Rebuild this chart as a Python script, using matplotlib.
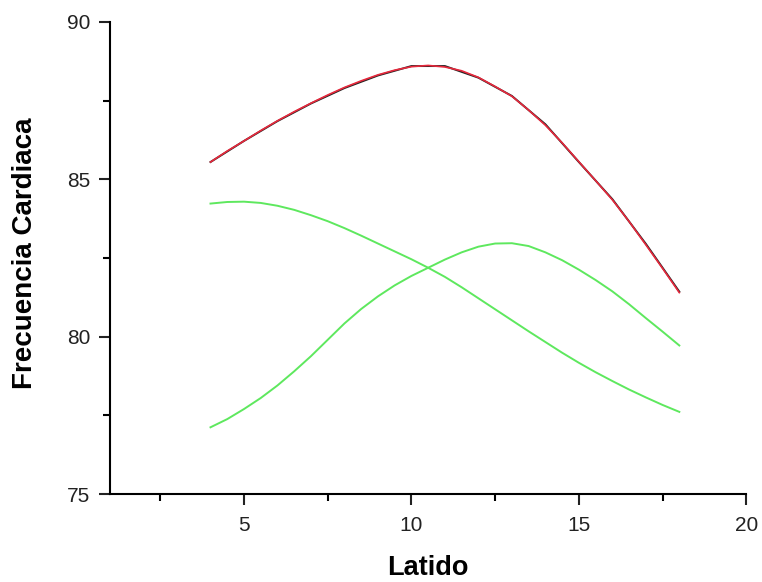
import matplotlib.pyplot as plt

plt.rcParams["font.family"] = ["Liberation Sans", "DejaVu Sans"]

# measured beats (black, piecewise linear)
latido = [4, 5, 6, 7, 8, 9, 10, 11, 12, 13, 14, 15, 16, 17, 18]
frecuencia = [85.55, 86.22, 86.85, 87.41, 87.9, 88.3, 88.6, 88.6, 88.23, 87.65,
              86.75, 85.55, 84.37, 82.95, 81.43]

# fitted curve and its two peak components (read at half steps)
x_fit = [4, 4.5, 5, 5.5, 6, 6.5, 7, 7.5, 8, 8.5, 9, 9.5, 10, 10.5, 11, 11.5,
         12, 12.5, 13, 13.5, 14, 14.5, 15, 15.5, 16, 16.5, 17, 17.5, 18]
ajuste = [85.55, 85.9, 86.22, 86.55, 86.86, 87.15, 87.42, 87.68, 87.92, 88.13,
          88.32, 88.47, 88.58, 88.62, 88.57, 88.45, 88.24, 87.95, 87.64, 87.2,
          86.72, 86.16, 85.56, 84.96, 84.35, 83.66, 82.92, 82.17, 81.4]
pico1 = [84.23, 84.28, 84.29, 84.25, 84.16, 84.03, 83.86, 83.67, 83.45, 83.21,
         82.96, 82.71, 82.46, 82.19, 81.9, 81.57, 81.22, 80.87, 80.52, 80.17,
         79.83, 79.49, 79.17, 78.87, 78.59, 78.32, 78.07, 77.83, 77.61]
pico2 = [77.12, 77.38, 77.7, 78.05, 78.45, 78.9, 79.38, 79.9, 80.42, 80.88,
         81.28, 81.63, 81.93, 82.19, 82.45, 82.68, 82.86, 82.96, 82.97, 82.88,
         82.68, 82.43, 82.13, 81.8, 81.44, 81.03, 80.59, 80.16, 79.72]

fig = plt.figure(figsize=(7.62, 5.82), dpi=100)
ax = fig.add_axes([0.1444, 0.1512, 0.835, 0.811])

ax.plot(x_fit, pico1, color="#5ee85e", lw=1.4)
ax.plot(x_fit, pico2, color="#5ee85e", lw=1.4)
ax.plot(latido, frecuencia, color="#222222", lw=1.4)
ax.plot(x_fit, ajuste, color="#e8283c", lw=1.2)

ax.set_xlim(1, 20)
ax.set_ylim(75, 90)
ax.set_xticks([5, 10, 15, 20])
ax.set_xticks([2.5, 7.5, 12.5, 17.5], minor=True)
ax.set_yticks([75, 80, 85, 90])
ax.set_yticks([77.5, 82.5, 87.5], minor=True)

for s in ["top", "right"]:
    ax.spines[s].set_visible(False)
for s in ["left", "bottom"]:
    ax.spines[s].set_linewidth(1.5)

ax.tick_params(which="major", direction="out", length=8, width=1.5,
               labelsize=15, colors="#222222")
ax.tick_params(axis="x", which="major", pad=8)
ax.tick_params(axis="y", which="major", pad=6)
ax.tick_params(which="minor", direction="out", length=5, width=1.5)

ax.set_xlabel("Latido", fontsize=19.5, fontweight="bold", labelpad=14)
ax.set_ylabel("Frecuencia Cardiaca", fontsize=20, fontweight="bold")
ax.yaxis.set_label_coords(-0.113, 0.51)

fig.savefig("out.png", dpi=100)
